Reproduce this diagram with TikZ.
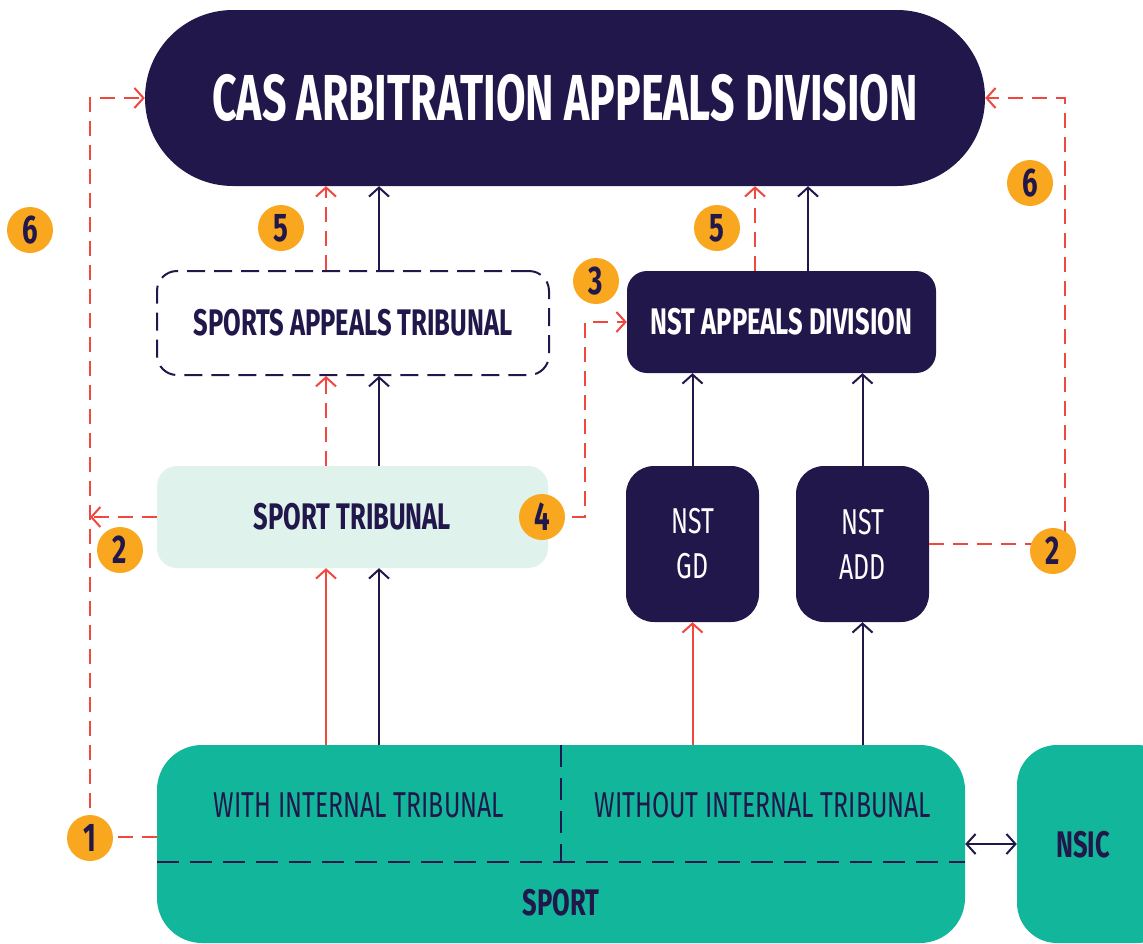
\documentclass[tikz,border=0pt]{standalone}
\usepackage{fontspec}
\setmainfont{Fira Sans}
\newfontfamily\condfont[FakeStretch=0.69]{Fira Sans}
\newfontfamily\bigcondfont[FakeStretch=0.66]{Fira Sans}
\usetikzlibrary{arrows.meta}
\definecolor{navy}{HTML}{21174B}
\definecolor{redline}{HTML}{F0483E}
\definecolor{badgeorange}{HTML}{F9A71E}
\definecolor{sportgreen}{HTML}{12B79B}
\definecolor{mint}{HTML}{E0F2EC}
\tikzset{
  box/.style={inner sep=0pt,align=center,rounded corners=20,text=navy,font=\condfont\bfseries\fontsize{37}{40}\selectfont},
  darkbox/.style={box,fill=navy,text=white},
  thin/.style={font=\condfont\fontsize{36}{45}\selectfont},
  conn/.style={line width=2pt,navy,-{Straight Barb[length=9pt,width=20pt]}},
  redconn/.style={conn,redline},
  reddash/.style={redconn,dash pattern=on 15pt off 9pt},
  badge/.style={circle,fill=badgeorange,minimum size=46pt,inner sep=0pt,text=navy,font=\condfont\bfseries\fontsize{40}{40}\selectfont}
}
\begin{document}
\begin{tikzpicture}[x=1pt,y=-1pt]
\useasboundingbox (0,0) rectangle (1143,943);
\clip (0,0) rectangle (1143,943);
% boxes
\node[darkbox,minimum width=840,minimum height=176,rounded corners=87.9,font=\bigcondfont\bfseries\fontsize{65}{70}\selectfont] (cas) at (565,98) {CAS ARBITRATION APPEALS DIVISION};
\node[box,draw=navy,line width=2pt,dash pattern=on 18pt off 9pt,minimum width=392,minimum height=104] (sat) at (353,323) {SPORTS APPEALS TRIBUNAL};
\node[darkbox,minimum width=309,minimum height=102] (nstad) at (781.5,322) {NST APPEALS DIVISION};
\node[box,fill=mint,minimum width=391,minimum height=102] (st) at (352.5,517) {SPORT TRIBUNAL};
\node[darkbox,thin,minimum width=133,minimum height=156,rounded corners=28] (gd) at (692.5,544) {NST\\GD};
\node[darkbox,thin,minimum width=133,minimum height=156,rounded corners=28] (add) at (862.5,544) {NST\\ADD};
\node[box,fill=sportgreen,minimum width=808,minimum height=198,rounded corners=45] (sport) at (561,844) {};
\node[box,fill=sportgreen,minimum width=160,minimum height=198,rounded corners=40] (nsic) at (1097,844) {};
\draw[navy,line width=2pt,dash pattern=on 22pt off 11pt] ([yshift=-18pt]sport.west) -- ([yshift=-18pt]sport.east);
\draw[navy,line width=2pt,dash pattern=on 22pt off 11pt] (sport.north) -- ([yshift=-18pt]sport.center);
\node[box,thin] (with) at (359,805) {WITH INTERNAL TRIBUNAL};
\node[box,thin] (without) at (763,805) {WITHOUT INTERNAL TRIBUNAL};
\node[box] (sportlbl) at (561,903) {SPORT};
\node[box] (nsiclbl) at (1083,845) {NSIC};
% columns of the arrows
\foreach \n/\x in {r1/326,n1/379,r3/755,n3/808,k4/585}{\coordinate (\n) at (\x,0);}
\coordinate (k1) at (90,837);
\coordinate (k2) at (1065,0);
% navy arrows
\draw[conn] (sat.north -| n1) -- (cas.south -| n1);
\draw[conn] (st.north -| n1) -- (sat.south -| n1);
\draw[conn] (sport.north -| n1) -- (st.south -| n1);
\draw[conn] (sport.north -| add.south) -- (add.south);
\draw[conn] (gd.north) -- (gd.north |- nstad.south);
\draw[conn] (add.north) -- (add.north |- nstad.south);
\draw[conn] (nstad.north -| n3) -- (cas.south -| n3);
\draw[conn,{Straight Barb[length=9pt,width=20pt]}-{Straight Barb[length=9pt,width=20pt]}] (sport.east) -- (nsic.west);
% red arrows
\draw[reddash] (sat.north -| r1) -- (cas.south -| r1);
\draw[reddash] (st.north -| r1) -- (sat.south -| r1);
\draw[redconn] (sport.north -| r1) -- (st.south -| r1);
\draw[redconn] (sport.north -| gd.south) -- (gd.south);
\draw[reddash] (nstad.north -| r3) -- (cas.south -| r3);
\draw[reddash] (st.east) -- (st.east -| k4) -- (nstad.west -| k4) -- (nstad.west);
\draw[reddash] (sport.west |- k1) -- (k1) -- (k1 |- cas.west) -- (cas.west);
\draw[reddash] (st.west) -- (st.west -| k1);
\draw[reddash] (add.east) -- (add.east -| k2) -- (k2 |- cas.east) -- (cas.east);
% numbered badges
\foreach \n/\x/\y/\t in {b1/90/838/1,b2/120/550/2,b2r/1053/551/2,b3/596/281/3,b4/542/517/4,b5/281/228/5,b5r/717/228/5,b6/30/230/6,b6r/1030/183/6}{\node[badge] (\n) at (\x,\y) {\t};}
\end{tikzpicture}
\end{document}
